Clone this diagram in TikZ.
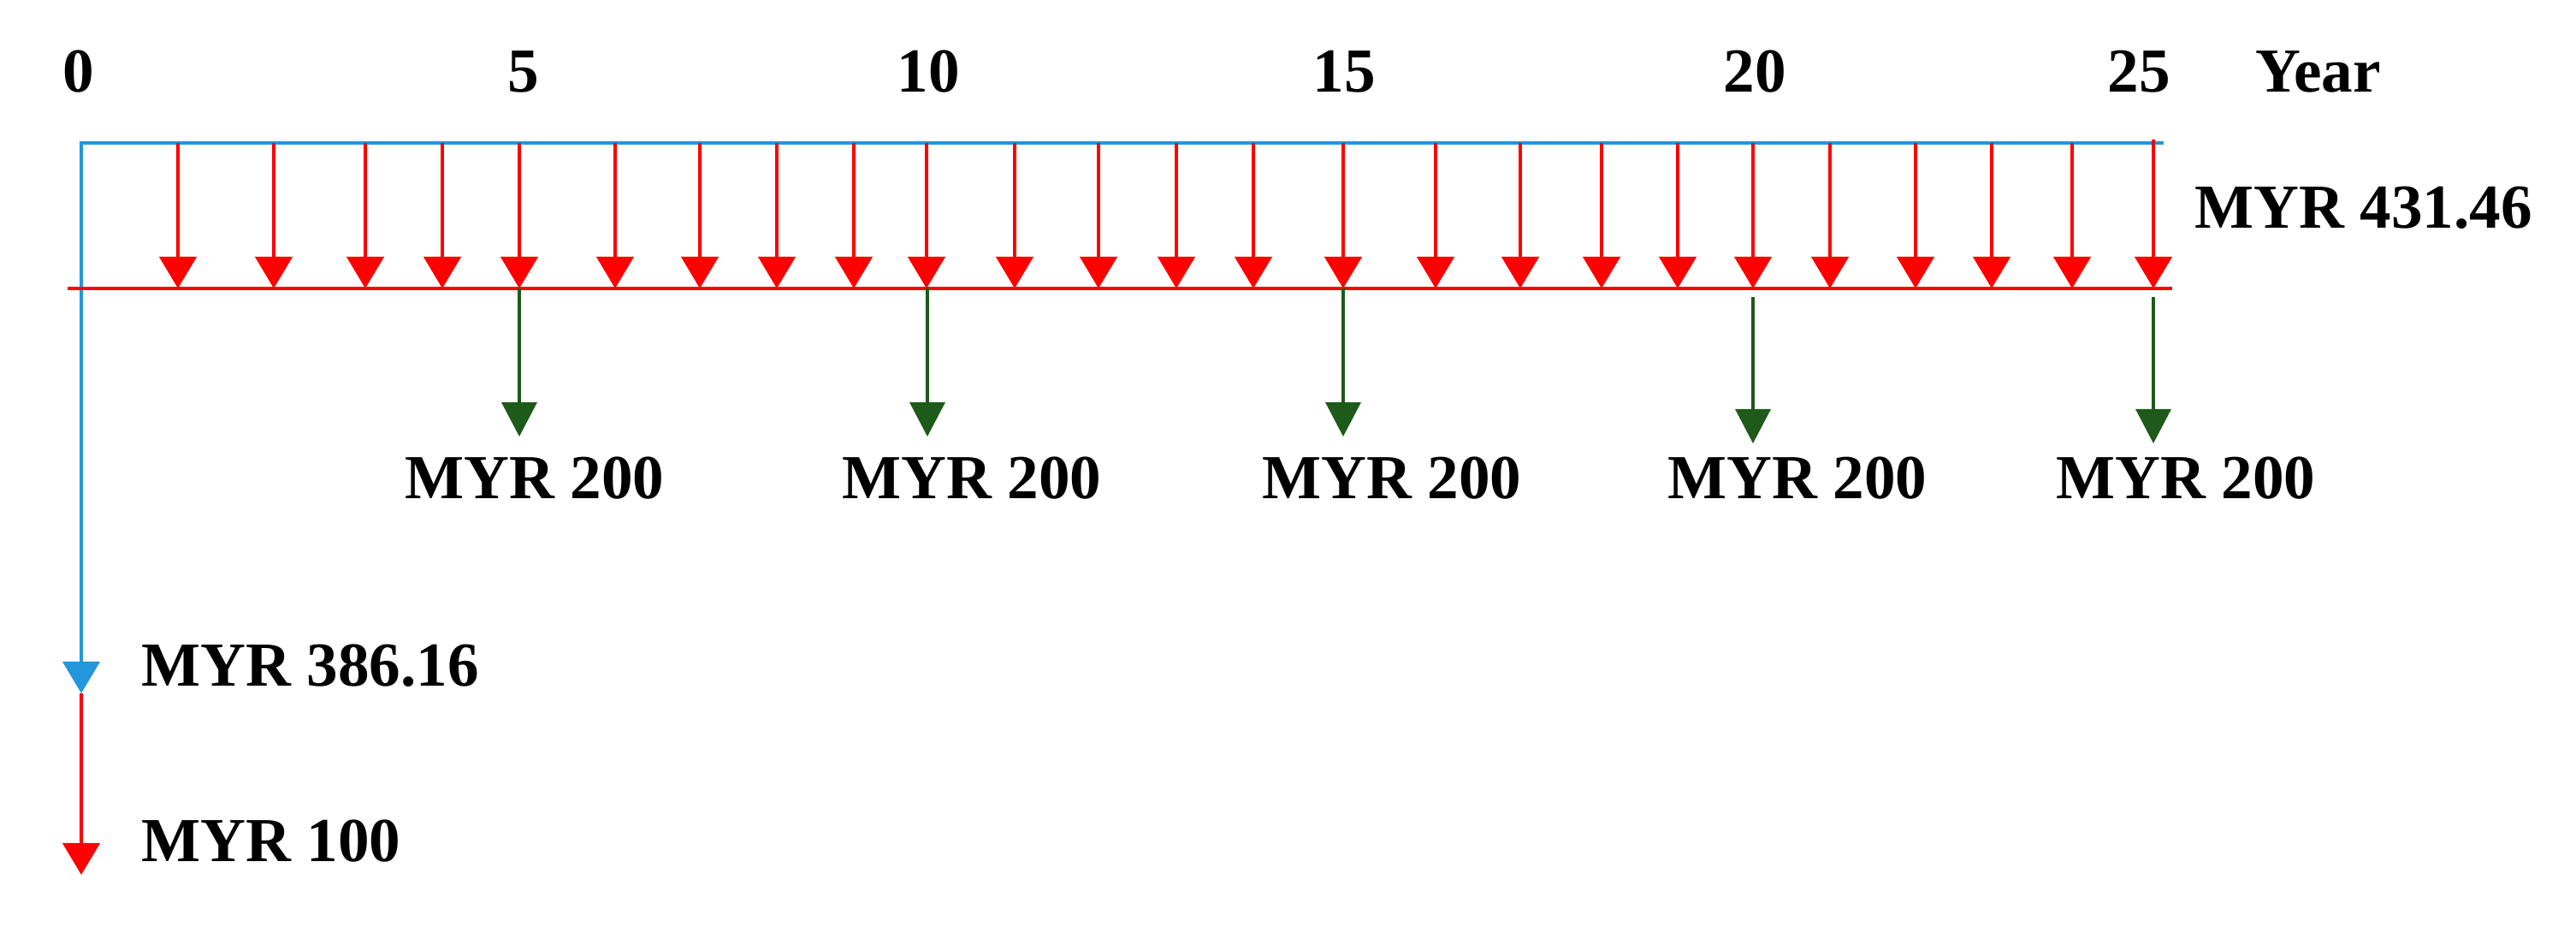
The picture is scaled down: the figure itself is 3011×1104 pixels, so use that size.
\documentclass[tikz,border=0pt]{standalone}
\usepackage{fontspec}
\setmainfont{Liberation Serif}
\usetikzlibrary{arrows.meta}
\definecolor{cfblue}{RGB}{35,150,220}
\definecolor{cfred}{RGB}{255,0,0}
\definecolor{cfgreen}{RGB}{30,90,25}
\begin{document}
\begin{tikzpicture}[x=0.01cm,y=-0.01cm,
  lbl/.style={inner sep=0pt, font=\fontsize{20.8}{25}\selectfont\bfseries},
  redarr/.style={draw=cfred, line width=1.3pt, -{Triangle[width=0.43cm,length=0.37cm]}},
  redline/.style={draw=cfred, line width=1.2pt},
  bluearr/.style={draw=cfblue, line width=1.2pt, line join=miter, -{Triangle[width=0.43cm,length=0.37cm]}},
  greenarr/.style={draw=cfgreen, line width=1.0pt, -{Triangle[width=0.41cm,length=0.40cm]}}]
\useasboundingbox (0,0) rectangle (3011,1104);

% year labels
\node[lbl, anchor=base] (y0) at (92,108) {0};
\node[lbl, anchor=base] (y5) at (612,108) {5};
\node[lbl, anchor=base] (y10) at (1085,108) {10};
\node[lbl, anchor=base] (y15) at (1571,108) {15};
\node[lbl, anchor=base] (y20) at (2051,108) {20};
\node[lbl, anchor=base] (y25) at (2500,108) {25};
\node[lbl, anchor=base west] (year) at (2636,108) {Year};

% blue line: top and down
\coordinate (bR) at (2529,167);
\coordinate (bC) at (95,167);
\coordinate (bT) at (95,810);
\draw[bluearr] (bR) -- (bC) -- (bT);

% red axis line
\coordinate (rL) at (79,337);
\coordinate (rR) at (2539,337);
\draw[redline] (rL) -- (rR);

% annual red arrows
\foreach \x [count=\i] in {208,320,427,517,607,719,818,908,998,1083,1186,1284,1375,1465,1570,1678,1777,1872,1961,2049,2139,2239,2328,2422} {
  \coordinate (rt\i) at (\x,167);
  \coordinate (rb\i) at (\x,337);
  \draw[redarr] (rt\i) -- (rb\i);
}
\coordinate (rt25) at (2517,163);
\coordinate (rb25) at (2517,337);
\draw[redarr] (rt25) -- (rb25);

\node[lbl, anchor=base west] (m431) at (2565,267) {MYR 431.46};

% green arrows
\foreach \x/\s/\t/\lx [count=\i] in {607/337/510/625, 1084/337/510/1136, 1570/337/510/1627, 2049/347/518/2101, 2517/347/518/2555} {
  \coordinate (gs\i) at (\x,\s);
  \coordinate (ge\i) at (\x,\t);
  \draw[greenarr] (gs\i) -- (ge\i);
  \node[lbl, anchor=base] (g\i) at (\lx,583) {MYR 200};
}

% initial outflows
\node[lbl, anchor=base west] (m386) at (165,802) {MYR 386.16};
\coordinate (rd) at (95,1022);
\draw[redarr] (bT) -- (rd);
\node[lbl, anchor=base west] (m100) at (165,1007) {MYR 100};
\end{tikzpicture}
\end{document}
